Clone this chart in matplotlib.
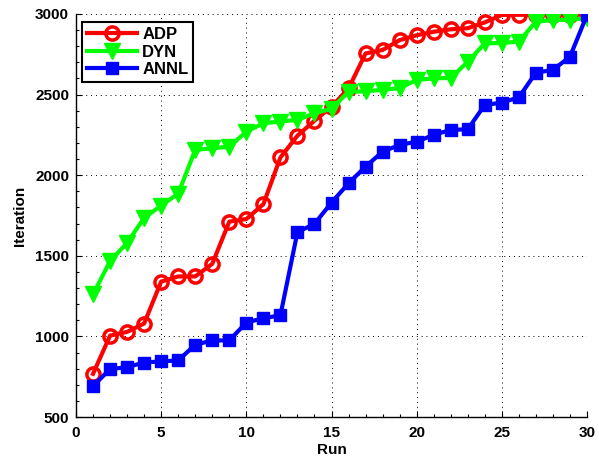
import matplotlib
matplotlib.use("Agg")
import matplotlib.pyplot as plt
from matplotlib.ticker import MultipleLocator

runs = list(range(1, 31))
adp = [768, 1005, 1028, 1080, 1340, 1372, 1372, 1450, 1712, 1728, 1820, 2110,
       2245, 2338, 2425, 2538, 2755, 2777, 2838, 2868, 2890, 2905, 2912, 2948,
       2994, 2995, 2995, 2995, 2995, 3000]
dyn = [1260, 1468, 1580, 1735, 1812, 1885, 2157, 2167, 2177, 2270, 2322, 2333,
       2343, 2384, 2412, 2518, 2520, 2530, 2540, 2591, 2601, 2603, 2704, 2818,
       2820, 2829, 2952, 2963, 2963, 2975]
annl = [692, 797, 809, 838, 845, 851, 948, 975, 975, 1086, 1113, 1130,
        1647, 1698, 1830, 1950, 2053, 2146, 2188, 2208, 2250, 2281, 2285, 2436,
        2450, 2483, 2636, 2653, 2735, 2994]

plt.rcParams['font.family'] = ['Liberation Sans', 'DejaVu Sans']
plt.rcParams['font.weight'] = 'bold'

fig = plt.figure(figsize=(5.99, 4.61), dpi=100)
ax = fig.add_axes([76/599, 44/461, 511/599, 403/461])

ax.plot(runs, adp, color='#ff0000', lw=3, marker='o', ms=9.5, mfc='none',
        mec='#ff0000', mew=2.5, label='ADP', zorder=3)
ax.plot(runs, dyn, color='#00ff00', lw=3, marker='v', ms=11, mfc='#00ff00',
        mec='#00ff00', label='DYN', zorder=4)
ax.plot(runs, annl, color='#0000ff', lw=3, marker='s', ms=8, mfc='#0000ff',
        mec='#0000ff', label='ANNL', zorder=5)

ax.set_xlim(0, 30)
ax.set_ylim(500, 3000)
ax.xaxis.set_major_locator(MultipleLocator(5))
ax.xaxis.set_minor_locator(MultipleLocator(1))
ax.yaxis.set_major_locator(MultipleLocator(500))
ax.yaxis.set_minor_locator(MultipleLocator(100))
ax.tick_params(which='both', direction='in', labelsize=11, width=0.8)
ax.tick_params(which='major', length=4)
ax.tick_params(which='minor', length=2.5)
ax.tick_params(axis='x', which='major', pad=6.5)
ax.tick_params(axis='y', which='major', pad=5)
for lbl in ax.get_xticklabels() + ax.get_yticklabels():
    lbl.set_fontweight('bold')

ax.grid(True, which='major', linestyle=(0, (1, 4)), color='black', lw=0.7)
ax.spines['top'].set_visible(False)
ax.spines['right'].set_visible(False)
ax.spines['left'].set_linewidth(1.0)
ax.spines['bottom'].set_linewidth(1.0)

ax.set_xlabel('Run', fontsize=11, fontweight='bold', labelpad=2)
ax.set_ylabel('Iteration', fontsize=11, fontweight='bold', labelpad=6)

leg = ax.legend(loc='upper left', bbox_to_anchor=(0.012, 0.98), fancybox=False,
                edgecolor='black', framealpha=1, fontsize=12, handlelength=3.0,
                borderpad=0.3, labelspacing=0.15, handletextpad=0.3,
                borderaxespad=0)
leg.get_frame().set_linewidth(1.5)
for t in leg.get_texts():
    t.set_fontweight('bold')

fig.savefig('out.png', dpi=100)
